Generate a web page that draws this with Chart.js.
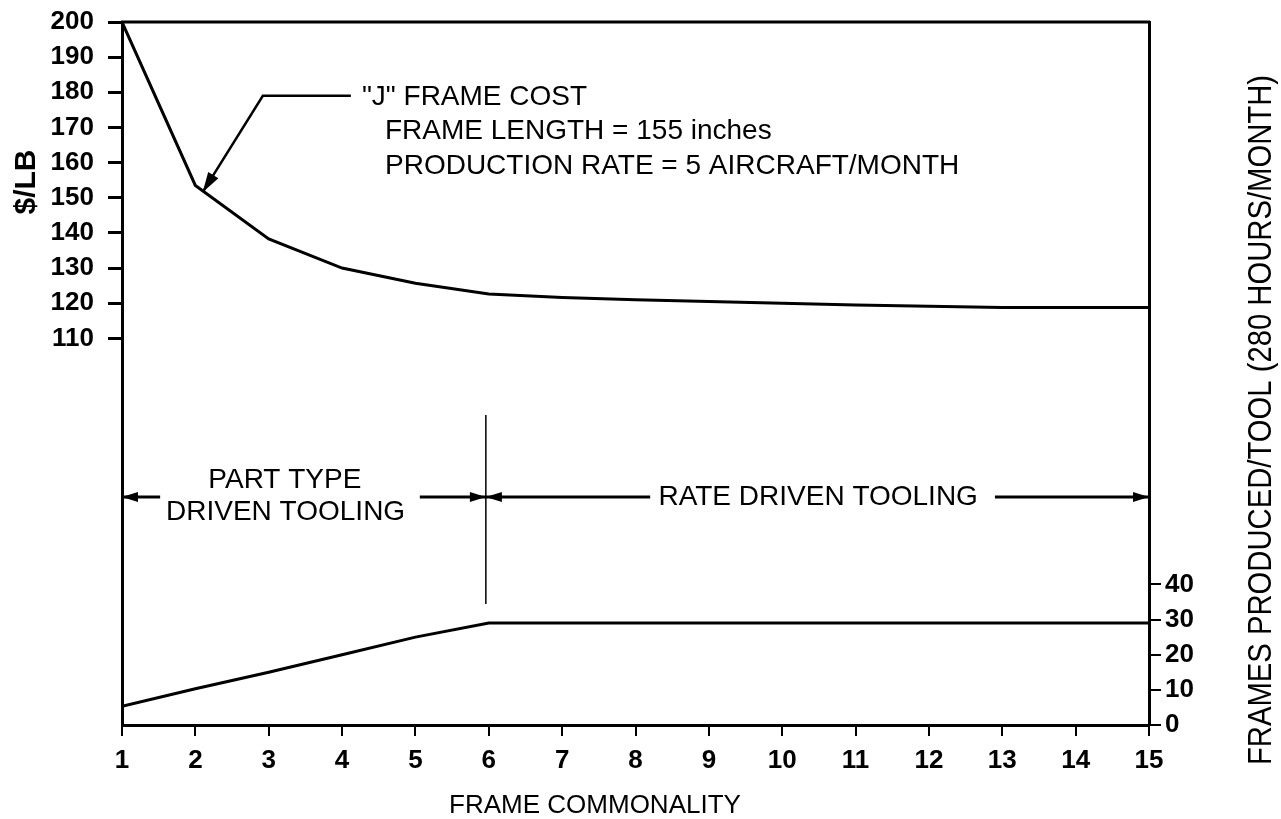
<!DOCTYPE html>
<html>
<head>
<meta charset="utf-8">
<script src="https://cdn.jsdelivr.net/npm/chart.js@4.4.0/dist/chart.umd.min.js"></script>
<style>
  html, body { margin: 0; padding: 0; background: #fff; }
  #wrap { width: 1281px; height: 819px; }
</style>
</head>
<body>
<div id="wrap"><canvas id="canvas_line" width="1281" height="819"></canvas></div>
<script>
// data
const commonality = [1, 2, 3, 4, 5, 6, 7, 8, 9, 10, 11, 12, 13, 14, 15];
const frameCost = [200, 153.5, 138.3, 130, 125.7, 122.6, 121.6, 121, 120.5, 120, 119.5, 119.1, 118.8, 118.8, 118.8];
const framesPerTool = [5.3, 10.3, 15, 20, 25, 29, 29, 29, 29, 29, 29, 29, 29, 29, 29];
const costTicksFrom = 110;
const framesTicksTo = 40;

const font = '"Liberation Sans", Arial, Helvetica, sans-serif';

// annotation spots, in data units (x = commonality, y = $/LB scale)
const callout = { tip: [2.1, 151.6], elbow: [2.92, 179], end: [4.12, 179] };
const calloutText = [
  { text: '"J" FRAME COST', at: [4.27, 178.7] },
  { text: 'FRAME LENGTH = 155 inches', at: [4.585, 169] },
  { text: 'PRODUCTION RATE = 5 AIRCRAFT/MONTH', at: [4.585, 159] },
];
const splitX = 5.96;
const splitY = [34.4, 88.2];
const arrowY = 64.9;

function toPx(chart, p) {
  return [chart.scales.x.getPixelForValue(p[0]), chart.scales.y.getPixelForValue(p[1])];
}

function arrowHead(ctx, x1, y1, x2, y2, len, half) {
  const a = Math.atan2(y2 - y1, x2 - x1);
  ctx.beginPath();
  ctx.moveTo(x2, y2);
  ctx.lineTo(x2 - len * Math.cos(a) + half * Math.sin(a), y2 - len * Math.sin(a) - half * Math.cos(a));
  ctx.lineTo(x2 - len * Math.cos(a) - half * Math.sin(a), y2 - len * Math.sin(a) + half * Math.cos(a));
  ctx.closePath();
  ctx.fill();
}

function arrowLine(ctx, chart, fromX, toX, y) {
  const a = toPx(chart, [fromX, y]);
  const b = toPx(chart, [toX, y]);
  ctx.beginPath();
  ctx.moveTo(a[0], a[1]);
  ctx.lineTo(b[0], b[1]);
  ctx.stroke();
  arrowHead(ctx, a[0], a[1], b[0], b[1], 16, 5);
}

// draws rotated text, squeezed along its length to look like the narrow face of the original
function sideText(ctx, text, x, y, size, bold, length) {
  ctx.save();
  ctx.translate(x, y);
  ctx.rotate(-Math.PI / 2);
  ctx.font = (bold ? 'bold ' : '') + size + 'px ' + font;
  const w = ctx.measureText(text).width;
  ctx.scale(length ? length / w : 1, 1);
  ctx.fillText(text, 0, 0);
  ctx.restore();
}

const notes = {
  id: 'notes',
  afterDraw(chart) {
    const ctx = chart.ctx;
    const area = chart.chartArea;
    ctx.save();
    ctx.strokeStyle = '#000';
    ctx.fillStyle = '#000';

    // top frame line
    ctx.lineWidth = 3;
    ctx.beginPath();
    ctx.moveTo(area.left - 1, area.top);
    ctx.lineTo(area.right + 1, area.top);
    ctx.stroke();

    // callout to the cost curve
    ctx.lineWidth = 2.5;
    const t = toPx(chart, callout.tip), e = toPx(chart, callout.elbow), n = toPx(chart, callout.end);
    ctx.beginPath();
    ctx.moveTo(n[0], n[1]);
    ctx.lineTo(e[0], e[1]);
    ctx.lineTo(t[0], t[1]);
    ctx.stroke();
    arrowHead(ctx, e[0], e[1], t[0], t[1], 20, 6);

    ctx.font = '28px ' + font;
    ctx.textBaseline = 'middle';
    ctx.textAlign = 'left';
    calloutText.forEach(l => {
      const p = toPx(chart, l.at);
      ctx.fillText(l.text, p[0], p[1]);
    });

    // split between the two tooling regimes
    ctx.lineWidth = 1.5;
    const s1 = toPx(chart, [splitX, splitY[0]]), s2 = toPx(chart, [splitX, splitY[1]]);
    ctx.beginPath();
    ctx.moveTo(s1[0], s1[1]);
    ctx.lineTo(s2[0], s2[1]);
    ctx.stroke();

    ctx.lineWidth = 3;
    arrowLine(ctx, chart, 1.52, 1, arrowY);
    arrowLine(ctx, chart, 5.06, splitX, arrowY);
    arrowLine(ctx, chart, 8.2, splitX, arrowY);
    arrowLine(ctx, chart, 12.9, 15, arrowY);

    ctx.textAlign = 'center';
    let p = toPx(chart, [3.22, 69.7]);
    ctx.fillText('PART TYPE', p[0], p[1]);
    p = toPx(chart, [3.23, 60.6]);
    ctx.fillText('DRIVEN TOOLING', p[0], p[1]);
    p = toPx(chart, [10.49, arrowY]);
    ctx.fillText('RATE DRIVEN TOOLING', p[0], p[1]);

    // axis titles
    ctx.font = '26px ' + font;
    ctx.fillText('FRAME COMMONALITY', 595, 806);

    sideText(ctx, '$/LB', 27, 182, 30, true, 0);
    sideText(ctx, 'FRAMES PRODUCED/TOOL (280 HOURS/MONTH)', 1262, 420, 34, false, 690);

    ctx.restore();
  }
};

const data_line = {
  datasets: [
    {
      label: 'Frame cost',
      data: commonality.map((c, i) => ({ x: c, y: frameCost[i] })),
      yAxisID: 'y',
      borderColor: '#000',
      borderWidth: 3,
      pointRadius: 0,
      tension: 0,
    },
    {
      label: 'Frames produced/tool',
      data: commonality.map((c, i) => ({ x: c, y: framesPerTool[i] })),
      yAxisID: 'y1',
      borderColor: '#000',
      borderWidth: 3,
      pointRadius: 0,
      tension: 0,
    },
  ],
};

const tickFont = { family: font, size: 26, weight: 'bold' };

const config_line = {
  type: 'line',
  data: data_line,
  options: {
    responsive: false,
    animation: false,
    layout: { padding: { top: 22, left: 0, right: 0, bottom: 0 } },
    plugins: { legend: { display: false }, tooltip: { enabled: false } },
    scales: {
      x: {
        type: 'linear',
        min: 1,
        max: 15,
        ticks: { stepSize: 1, color: '#000', font: tickFont, padding: 9 },
        grid: { drawOnChartArea: false, color: '#000', lineWidth: 2, tickLength: 11 },
        border: { color: '#000', width: 3 },
        afterFit: s => { s.height = 94; s.paddingLeft = 0; s.paddingRight = 0; },
      },
      y: {
        position: 'left',
        min: 0,
        max: 200,
        ticks: {
          stepSize: 10,
          color: '#000',
          font: tickFont,
          padding: 14,
          callback: v => (v >= costTicksFrom ? v : null),
        },
        grid: { drawOnChartArea: false, color: '#000', lineWidth: 3, tickLength: 14 },
        border: { color: '#000', width: 3 },
        afterFit: s => { s.width = 122; s.paddingTop = 0; s.paddingBottom = 0; },
      },
      y1: {
        position: 'right',
        min: 0,
        max: 200,
        ticks: {
          stepSize: 10,
          color: '#000',
          font: tickFont,
          padding: 4,
          callback: v => (v <= framesTicksTo ? v : null),
        },
        grid: { drawOnChartArea: false, color: '#000', lineWidth: 2, tickLength: 12 },
        border: { color: '#000', width: 3 },
        afterFit: s => { s.width = 132; s.paddingTop = 0; s.paddingBottom = 0; },
      },
    },
  },
  plugins: [notes],
};

const canvas_line = document.getElementById('canvas_line');
const chart_line = new Chart(canvas_line, config_line);
</script>
</body>
</html>
